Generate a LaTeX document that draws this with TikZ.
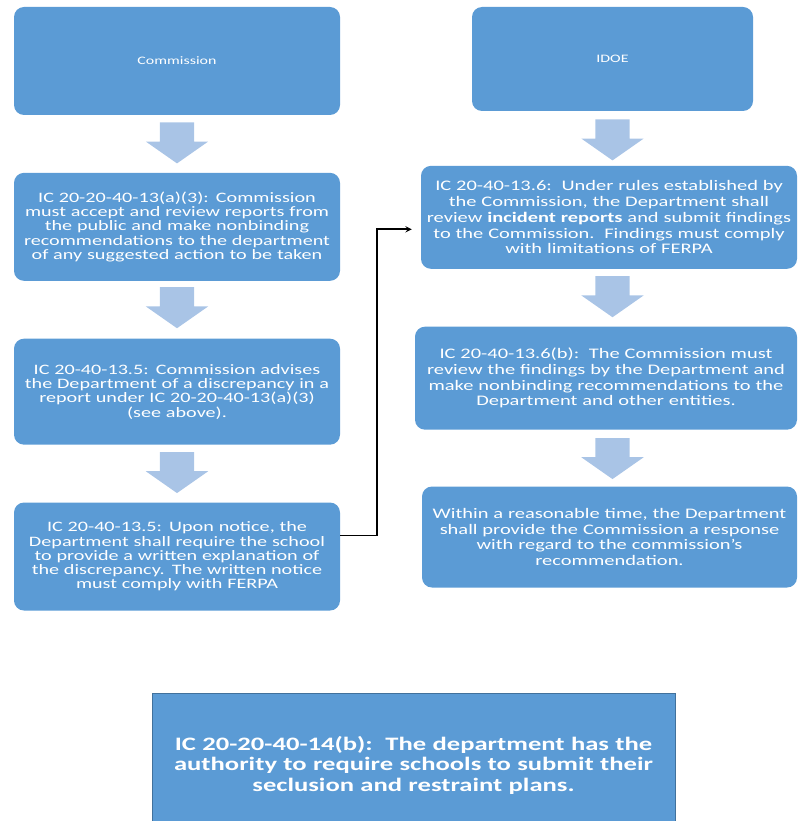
\documentclass[tikz,border=0pt]{standalone}
\usepackage{fontspec}
\setmainfont{Carlito}[FakeStretch=1.4]
\usepackage{tikz}
\usetikzlibrary{positioning}
\usetikzlibrary{shapes.arrows, arrows}
\definecolor{boxblue}{HTML}{5B9BD5}
\definecolor{flowblue}{HTML}{A9C4E6}
\definecolor{edgeblue}{HTML}{41719C}
\tikzstyle{source} = [rectangle, rounded corners=10pt, minimum width=326pt, minimum height=108pt, inner sep=0pt, text centered, fill=boxblue, text=white, font=\fontsize{11.4}{14}\selectfont]
\tikzstyle{clause} = [source, text width=322pt, align=center, font=\fontsize{14.4}{14.3}\selectfont]
\tikzstyle{wideclause} = [clause, minimum width=376pt, minimum height=103pt, text width=374pt, font=\fontsize{14.6}{15.7}\selectfont]
\tikzstyle{statute} = [rectangle, minimum width=523pt, minimum height=144pt, inner sep=0pt, text width=515pt, align=center, fill=boxblue, draw=edgeblue, line width=1pt, text=white, font=\bfseries\fontsize{19}{20.5}\selectfont]
\tikzstyle{flow} = [single arrow, shape border rotate=270, fill=flowblue, minimum height=41pt, minimum width=62pt, single arrow head extend=14pt, single arrow tip angle=110, inner xsep=17pt, inner ysep=0pt]
\tikzstyle{link} = [line width=1.8pt, ->, >=stealth]
\begin{document}
\begin{tikzpicture}[x=1pt, y=1pt]
\useasboundingbox (0,0) rectangle (798,-821);

% left column
\node (com) [source] at (177,-61) {Commission};
\node (la1) [flow, below=7pt of com, anchor=tail] {};
\node (accept) [clause, below=9pt of la1.tip] {IC 20-20-40-13(a)(3): Commission\\must accept and review reports from\\the public and make nonbinding\\recommendations to the department\\of any suggested action to be taken};
\node (la2) [flow, below=6pt of accept, anchor=tail] {};
\node (advise) [clause, minimum height=106pt, below=10pt of la2.tip] {IC 20-40-13.5: Commission advises\\the Department of a discrepancy in a\\report under IC 20-20-40-13(a)(3)\\(see above).};
\node (la3) [flow, below=7pt of advise, anchor=tail] {};
\node (notice) [clause, below=9pt of la3.tip] {IC 20-40-13.5: Upon notice, the\\Department shall require the school\\to provide a written explanation of\\the discrepancy. The written notice\\must comply with FERPA};

% right column
\node (idoe) [source, minimum width=281pt, minimum height=104pt] at (612.5,-59) {IDOE};
\node (ra1) [flow, below=8pt of idoe, anchor=tail] {};
\node (review) [wideclause, below=5pt of ra1.tip, xshift=-3.5pt] {IC 20-40-13.6:\ \ Under rules established by\\the Commission, the Department shall\\review \textbf{incident reports} and submit findings\\to the Commission.\ \ Findings must comply\\with limitations of FERPA};
\node (ra2) [flow, below=7pt of review, xshift=3.5pt, anchor=tail] {};
\node (findings) [wideclause, minimum width=382pt, below=9pt of ra2.tip, xshift=-6.5pt] {IC 20-40-13.6(b):\ \ The Commission must\\review the findings by the Department and\\make nonbinding recommendations to the\\Department and other entities.};
\node (ra3) [flow, below=8pt of findings, xshift=6.5pt, anchor=tail] {};
\node (response) [wideclause, minimum width=375pt, minimum height=101pt, below=7pt of ra3.tip, xshift=-3pt] {Within a reasonable time, the Department\\shall provide the Commission a response\\with regard to the commission's\\recommendation.};

% bottom
\node (plans) [statute] at (413.5,-765) {IC 20-20-40-14(b):\ \ The department has the\\authority to require schools to submit their\\seclusion and restraint plans.};

\draw [link] ([yshift=21pt]notice.east) -- ++(37,0) |- ([xshift=-9pt,yshift=-12pt]review.west);

\end{tikzpicture}
\end{document}
